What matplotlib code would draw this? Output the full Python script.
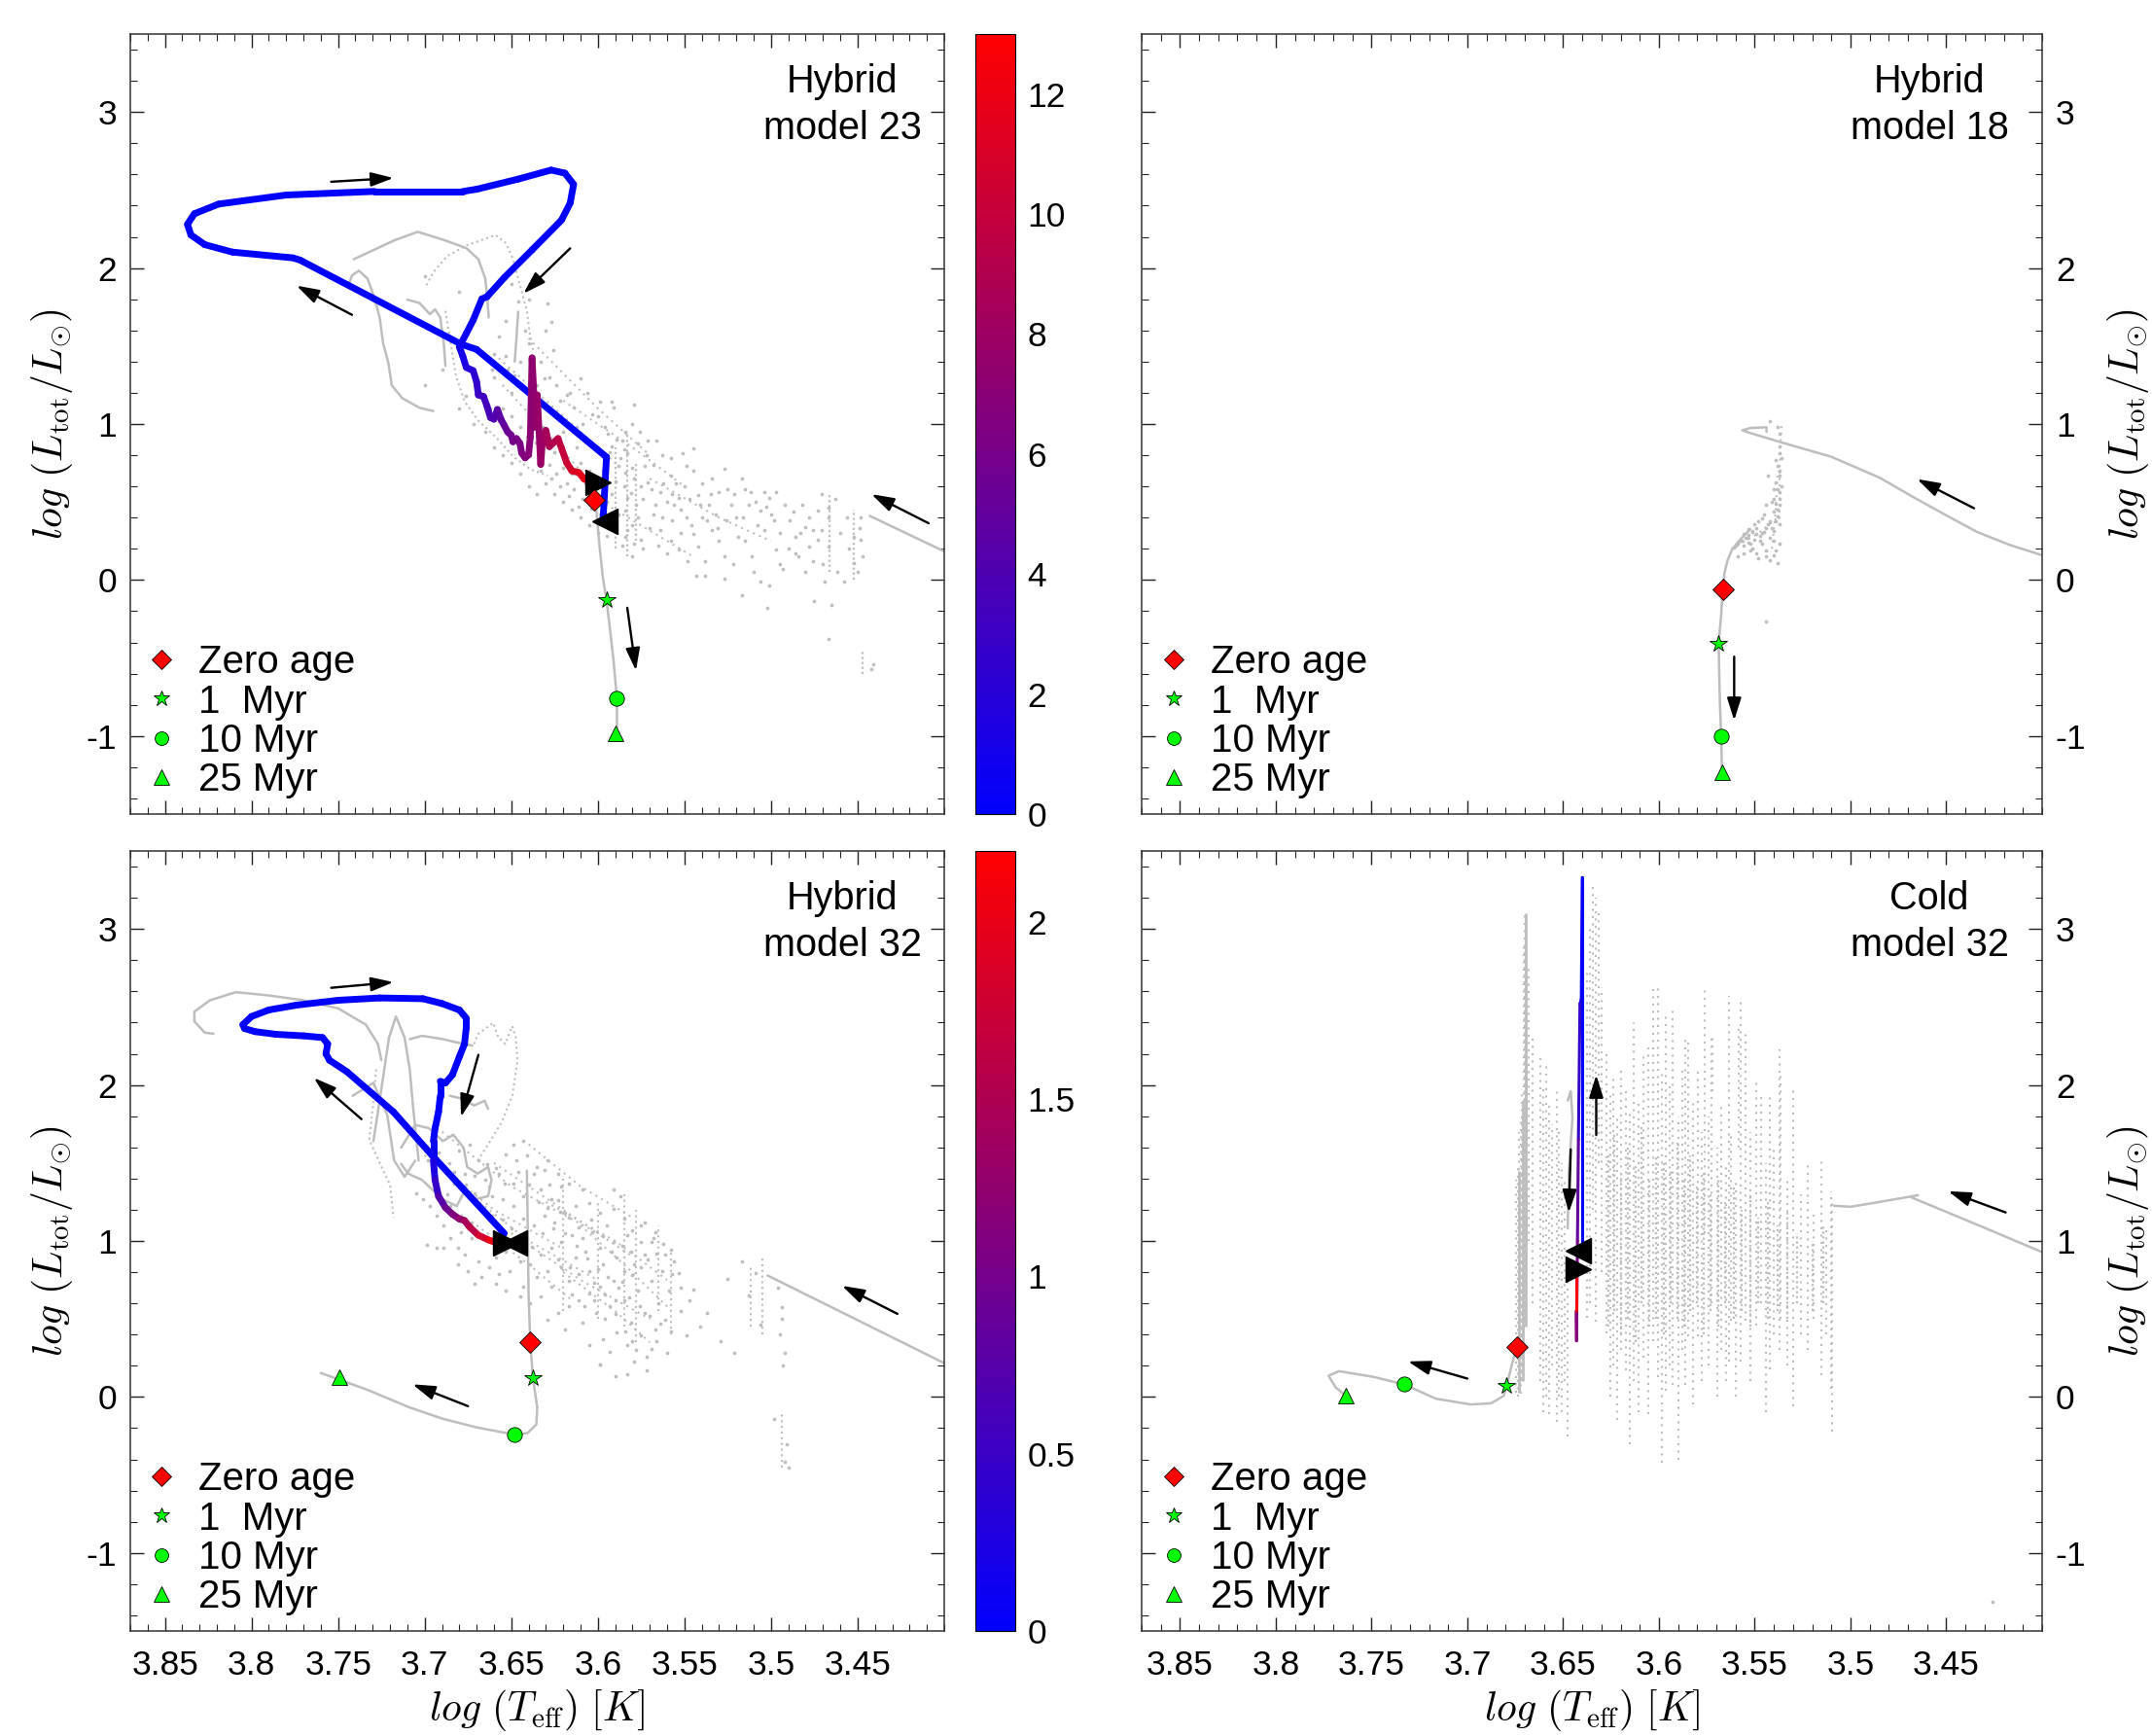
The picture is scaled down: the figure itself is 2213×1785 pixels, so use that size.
import numpy as np
import matplotlib
matplotlib.use('Agg')
import matplotlib.pyplot as plt
from matplotlib.collections import LineCollection
from matplotlib.colors import LinearSegmentedColormap, Normalize
from matplotlib.ticker import FixedLocator, MultipleLocator, FuncFormatter
from matplotlib.lines import Line2D
import matplotlib.cm as cm

plt.rcParams['font.family'] = ['Liberation Sans', 'DejaVu Sans']
plt.rcParams['mathtext.fontset'] = 'cm'
plt.rcParams['axes.unicode_minus'] = False

# ---------------- general values ----------------
panel_titles = ['Hybrid\nmodel 23', 'Hybrid\nmodel 18', 'Hybrid\nmodel 32', 'Cold\nmodel 32']
legend_labels = ['Zero age', '1  Myr', '10 Myr', '25 Myr']
x_ticks = [3.85, 3.8, 3.75, 3.7, 3.65, 3.6, 3.55, 3.5, 3.45]
y_ticks = [-1, 0, 1, 2, 3]
x_lim = (3.87, 3.40)
y_lim = (-1.5, 3.5)
cbar_top_ticks = [0, 2, 4, 6, 8, 10, 12]
cbar_top_max = 13.0
cbar_bot_ticks = [0, 0.5, 1, 1.5, 2]
cbar_bot_max = 2.2

# ---------------- Hybrid model 23 (top left) ----------------
tl_track_x = [3.597, 3.595, 3.670, 3.679, 3.772, 3.776, 3.811, 3.827, 3.835, 3.837, 3.833, 3.819, 3.780,
              3.729, 3.678, 3.670, 3.646, 3.627, 3.619, 3.614, 3.616, 3.621, 3.638, 3.654, 3.664, 3.667,
              3.672, 3.676, 3.680, 3.678, 3.676, 3.672, 3.670, 3.669, 3.666, 3.664, 3.662, 3.660, 3.658,
              3.656, 3.654, 3.652, 3.650, 3.649, 3.647, 3.645, 3.644, 3.642, 3.640, 3.639, 3.638, 3.636,
              3.635, 3.633, 3.632, 3.630, 3.628, 3.626, 3.623, 3.621, 3.618, 3.615, 3.611, 3.608, 3.604, 3.601]
tl_track_y = [0.389, 0.788, 1.478, 1.512, 2.051, 2.065, 2.102, 2.150, 2.212, 2.280, 2.348, 2.410, 2.468,
              2.491, 2.491, 2.505, 2.570, 2.628, 2.608, 2.536, 2.416, 2.307, 2.116, 1.939, 1.816, 1.802,
              1.666, 1.580, 1.495, 1.435, 1.363, 1.342, 1.269, 1.186, 1.176, 1.114, 1.041, 1.031, 1.093,
              1.031, 0.990, 0.948, 0.928, 0.886, 0.907, 0.876, 0.814, 0.783, 0.803, 0.917, 1.424, 0.979,
              1.186, 0.741, 0.896, 0.959, 0.855, 0.876, 0.907, 0.845, 0.752, 0.700, 0.689, 0.648, 0.627, 0.617]
tl_track_t = [0] * 24 + [0.2, 0.3, 0.4, 0.5, 0.7,
              1.0, 1.5, 2.0, 2.5, 2.8, 3.1, 3.4, 3.8, 4.1, 4.3, 4.6, 5.0, 5.3, 5.6, 5.8, 6.0, 6.2, 6.4,
              6.6, 6.8, 7.0, 7.2, 7.4, 7.6, 7.8, 8.0, 8.3, 8.6, 8.9, 9.3, 9.7, 10.2, 10.8, 11.3, 11.8, 12.4, 13.0]
tl_start = (3.596, 0.379)
tl_end = (3.600, 0.627)
tl_age_x = [3.602, 3.595, 3.589, 3.590]
tl_age_y = [0.515, -0.13, -0.757, -0.985]
tl_zams_x = [3.602, 3.601, 3.599, 3.597, 3.595, 3.591, 3.589, 3.589]
tl_zams_y = [0.515, 0.464, 0.215, 0.008, -0.126, -0.509, -0.757, -1.02]
tl_right_x = [3.443, 3.400]
tl_right_y = [0.411, 0.184]
tl_lineA_x = [3.741, 3.729, 3.717, 3.704, 3.689, 3.676, 3.669, 3.665, 3.664, 3.663]
tl_lineA_y = [2.056, 2.118, 2.180, 2.232, 2.180, 2.128, 2.056, 1.932, 1.828, 1.683]
tl_lineB_x = [3.744, 3.742, 3.738, 3.733, 3.729, 3.726, 3.724, 3.721, 3.719, 3.713, 3.703, 3.695]
tl_lineB_y = [1.890, 1.952, 1.983, 1.932, 1.807, 1.683, 1.518, 1.393, 1.248, 1.166, 1.104, 1.083]
tl_lineC_x = [3.710, 3.703, 3.697, 3.694, 3.691, 3.689, 3.688]
tl_lineC_y = [1.797, 1.776, 1.704, 1.735, 1.683, 1.518, 1.373]
tl_lineV_x = [3.646, 3.647, 3.648]
tl_lineV_y = [1.72, 1.55, 1.40]
tl_dotD_x = [3.699, 3.695, 3.687, 3.675, 3.659, 3.653, 3.649, 3.645, 3.641, 3.639, 3.637]
tl_dotD_y = [1.890, 1.973, 2.077, 2.149, 2.211, 2.159, 2.056, 1.890, 1.725, 1.559, 1.455]
tl_dotE_x = [3.688, 3.685, 3.682, 3.677, 3.669, 3.659, 3.649, 3.639, 3.629]
tl_dotE_y = [1.725, 1.518, 1.311, 1.145, 1.021, 0.917, 0.793, 0.710, 0.669]
tl_chains = [([3.660, 3.620, 3.590], [1.45, 1.05, 0.75]),
             ([3.640, 3.600, 3.570], [1.55, 1.10, 0.80]),
             ([3.620, 3.580, 3.550], [1.15, 0.85, 0.60]),
             ([3.570, 3.530, 3.500], [0.65, 0.40, 0.25]),
             ([3.605, 3.575, 3.545], [0.55, 0.35, 0.15]),
             ([3.655, 3.630, 3.610], [1.25, 0.95, 0.70])]
tl_stack_x = [3.590, 3.583, 3.578, 3.466, 3.452, 3.447]
tl_stack_lo = [0.20, 0.15, 0.25, 0.05, 0.00, -0.60]
tl_stack_hi = [0.85, 0.95, 0.75, 0.55, 0.45, -0.45]
tl_cloud = [
    (3.629, 1.776), (3.627, 1.652), (3.626, 1.476), (3.646, 1.786), (3.653, 1.662), (3.657, 1.559), (3.642, 1.600),
    (3.640, 1.518), (3.653, 1.435), (3.661, 1.352), (3.648, 1.311), (3.638, 1.352), (3.631, 1.290), (3.624, 1.249),
    (3.618, 1.187), (3.614, 1.104), (3.610, 1.290), (3.609, 1.001), (3.603, 1.063), (3.599, 1.145), (3.592, 1.145),
    (3.591, 1.104), (3.579, 1.125), (3.594, 0.939), (3.592, 0.856), (3.586, 0.897), (3.583, 0.815), (3.577, 0.877),
    (3.571, 0.897), (3.566, 0.897), (3.573, 0.732), (3.579, 0.649), (3.571, 0.628), (3.584, 0.690), (3.588, 0.732),
    (3.583, 0.525), (3.584, 0.442), (3.577, 0.401), (3.583, 0.318), (3.579, 0.236), (3.584, 0.277), (3.575, 0.256),
    (3.568, 0.422), (3.564, 0.566), (3.558, 0.670), (3.551, 0.815), (3.545, 0.846), (3.553, 0.525), (3.549, 0.732),
    (3.542, 0.546), (3.534, 0.649), (3.527, 0.711), (3.536, 0.484), (3.530, 0.566), (3.523, 0.484), (3.517, 0.649),
    (3.516, 0.401), (3.512, 0.566), (3.504, 0.566), (3.501, 0.525), (3.497, 0.566), (3.506, 0.442), (3.489, 0.380),
    (3.486, 0.277), (3.480, 0.339), (3.473, 0.442), (3.467, 0.463), (3.471, 0.318), (3.478, 0.215), (3.486, 0.173),
    (3.497, 0.194), (3.504, 0.318), (3.511, 0.153), (3.519, 0.277), (3.527, 0.153), (3.534, 0.318), (3.542, 0.215),
    (3.545, 0.298), (3.553, 0.194), (3.560, 0.173), (3.564, 0.318), (3.557, 0.380), (3.549, 0.401), (3.543, 0.029),
    (3.538, 0.029), (3.527, 0.008), (3.517, -0.095), (3.506, -0.013), (3.501, -0.033), (3.493, 0.070), (3.484, 0.153),
    (3.475, -0.137), (3.469, -0.013), (3.458, -0.013), (3.452, 0.111), (3.448, 0.256), (3.452, 0.277), (3.448, 0.401),
    (3.465, -0.157), (3.502, -0.178), (3.467, -0.375), (3.441, -0.540), (3.442, -0.571), (3.476, 0.318), (3.467, 0.401),
    (3.473, 0.256), (3.467, 0.215), (3.482, 0.484),
    (3.700, 1.25), (3.690, 1.35), (3.680, 1.10), (3.672, 1.00), (3.665, 0.95), (3.660, 0.85), (3.655, 0.80),
    (3.650, 0.75), (3.645, 0.68), (3.640, 0.60), (3.635, 0.55), (3.630, 0.62), (3.625, 0.55), (3.620, 0.50),
    (3.615, 0.45), (3.610, 0.40), (3.605, 0.35), (3.600, 0.30), (3.620, 0.72), (3.612, 0.85), (3.605, 0.70),
    (3.598, 0.62), (3.592, 0.55), (3.588, 0.42), (3.595, 0.28), (3.585, 0.60), (3.580, 0.35), (3.700, 1.95),
    (3.680, 1.85), (3.650, 1.90), (3.640, 1.80), (3.630, 1.60), (3.660, 1.30), (3.650, 1.20), (3.640, 1.10),
    (3.635, 1.25), (3.625, 1.05), (3.620, 0.95),
    (3.655, 1.10), (3.650, 1.05), (3.645, 0.98), (3.641, 0.92), (3.636, 0.88), (3.632, 0.80), (3.628, 0.74),
    (3.624, 0.68), (3.618, 0.62), (3.614, 0.58), (3.609, 0.52), (3.604, 0.46), (3.599, 0.42), (3.595, 0.50),
    (3.590, 0.63), (3.587, 0.78), (3.584, 0.95), (3.580, 1.00), (3.576, 0.95), (3.572, 0.80), (3.568, 0.74),
    (3.563, 0.80), (3.558, 0.78), (3.555, 0.62), (3.560, 0.50), (3.567, 0.48), (3.575, 0.60), (3.580, 0.72),
    (3.590, 0.35), (3.586, 0.22), (3.580, 0.15), (3.574, 0.20), (3.570, 0.33), (3.563, 0.40), (3.556, 0.48),
    (3.550, 0.60), (3.545, 0.70), (3.540, 0.62), (3.535, 0.55), (3.540, 0.40), (3.546, 0.35), (3.552, 0.30),
    (3.558, 0.25), (3.565, 0.22), (3.532, 0.42), (3.525, 0.58), (3.520, 0.40), (3.513, 0.48), (3.508, 0.35),
    (3.500, 0.42), (3.495, 0.30), (3.490, 0.20), (3.515, 0.25), (3.530, 0.25), (3.538, 0.12), (3.548, 0.12),
    (3.522, 0.10), (3.510, 0.05), (3.495, 0.10), (3.480, 0.05), (3.478, 0.40), (3.460, 0.30), (3.455, 0.20),
    (3.449, 0.33), (3.447, 0.15), (3.450, 0.05), (3.660, 1.45), (3.652, 1.35), (3.645, 1.40), (3.633, 1.40),
    (3.628, 1.30), (3.622, 1.15), (3.616, 1.20), (3.606, 1.20), (3.600, 1.05), (3.596, 0.98), (3.612, 0.98),
    (3.606, 0.90), (3.600, 0.85), (3.595, 0.78), (3.610, 0.75), (3.615, 0.68), (3.625, 0.82), (3.632, 0.98),
    (3.640, 1.25), (3.668, 1.20), (3.662, 1.10), (3.676, 1.18),
    (3.657, 1.02), (3.651, 0.93), (3.646, 0.87), (3.639, 0.80), (3.633, 0.70), (3.627, 0.65), (3.622, 0.60),
    (3.617, 0.54), (3.611, 0.47), (3.607, 0.62), (3.602, 0.55), (3.597, 0.70), (3.593, 0.82), (3.589, 0.90),
    (3.585, 0.84), (3.581, 0.56), (3.578, 0.48), (3.574, 0.52), (3.569, 0.58), (3.562, 0.62), (3.557, 0.55),
    (3.552, 0.45), (3.547, 0.52), (3.541, 0.48), (3.537, 0.38), (3.531, 0.33), (3.526, 0.38), (3.521, 0.55),
    (3.515, 0.58), (3.509, 0.50), (3.503, 0.47), (3.498, 0.38), (3.492, 0.48), (3.487, 0.44), (3.483, 0.30),
    (3.476, 0.12), (3.470, 0.10), (3.462, 0.05), (3.456, 0.40), (3.463, 0.52), (3.471, 0.55)]
tl_arrows = [((3.754, 2.553), (3.718, 2.577)), ((3.616, 2.126), (3.643, 1.836)), ((3.742, 1.700), (3.774, 1.887)),
             ((3.583, -0.178), (3.578, -0.581)), ((3.409, 0.364), (3.442, 0.550))]

# ---------------- Hybrid model 18 (top right) ----------------
tr_age_x = [3.5667, 3.5688, 3.5675, 3.5670]
tr_age_y = [-0.059, -0.408, -1.004, -1.233]
tr_zams_x = [3.5670, 3.5675, 3.5683, 3.5688, 3.5675, 3.5667, 3.5658, 3.5641, 3.5616, 3.5573, 3.5523]
tr_zams_y = [-1.274, -1.004, -0.724, -0.408, -0.225, -0.059, 0.045, 0.128, 0.200, 0.263, 0.325]
tr_long_x = [3.5438, 3.5438, 3.5520, 3.5565, 3.5530, 3.5354, 3.5100, 3.4846, 3.4677, 3.4508, 3.4339, 3.4169, 3.4000]
tr_long_y = [0.950, 0.979, 0.975, 0.960, 0.945, 0.880, 0.790, 0.655, 0.535, 0.420, 0.308, 0.225, 0.159]
tr_chains = [([3.562, 3.548, 3.538], [0.20, 0.30, 0.40]),
             ([3.537, 3.537, 3.536], [0.35, 0.70, 1.00]),
             ([3.541, 3.539, 3.538], [0.20, 0.45, 0.70])]
tr_cloud = [
    (3.537, 0.855), (3.537, 0.813), (3.538, 0.730), (3.537, 0.668), (3.539, 0.626), (3.537, 0.564), (3.540, 0.522),
    (3.537, 0.481), (3.540, 0.439), (3.538, 0.408), (3.542, 0.377), (3.537, 0.356), (3.544, 0.335), (3.540, 0.315),
    (3.546, 0.304), (3.549, 0.294), (3.542, 0.273), (3.547, 0.252), (3.552, 0.232), (3.537, 0.232), (3.551, 0.200),
    (3.544, 0.190), (3.556, 0.169), (3.540, 0.159), (3.559, 0.149), (3.548, 0.138), (3.542, 0.128), (3.538, 0.107),
    (3.543, 0.668), (3.542, 1.020), (3.538, 0.979), (3.537, 0.938), (3.541, 0.501), (3.546, 0.398), (3.550, 0.356),
    (3.553, 0.325), (3.556, 0.294), (3.558, 0.252), (3.560, 0.221), (3.554, 0.273), (3.551, 0.315), (3.548, 0.377),
    (3.545, 0.419), (3.539, 0.377), (3.540, 0.252), (3.546, 0.232), (3.552, 0.190), (3.549, 0.169), (3.544, 0.149),
    (3.539, 0.190), (3.541, 0.335), (3.544, 0.481), (3.540, 0.585), (3.539, 0.772), (3.544, -0.267),
    (3.561, 0.21), (3.559, 0.23), (3.557, 0.25), (3.555, 0.27), (3.553, 0.29), (3.551, 0.31), (3.549, 0.33),
    (3.556, 0.22), (3.553, 0.24), (3.550, 0.26), (3.547, 0.28), (3.545, 0.31), (3.543, 0.36), (3.538, 0.45),
    (3.537, 0.52), (3.536, 0.60), (3.537, 0.70), (3.536, 0.78), (3.538, 0.58), (3.539, 0.49)]
tr_arrows = [((3.4355, 0.46), (3.4652, 0.647)), ((3.5607, -0.491), (3.5607, -0.900))]

# ---------------- Hybrid model 32 (bottom left) ----------------
bl_track_x = [3.654, 3.6955, 3.718, 3.745, 3.755, 3.757, 3.756, 3.759, 3.770, 3.786, 3.798, 3.804, 3.805, 3.800,
              3.790, 3.774, 3.750, 3.726, 3.701, 3.690, 3.680, 3.676, 3.676, 3.677, 3.680, 3.684, 3.688, 3.691,
              3.691, 3.692, 3.694, 3.695, 3.695, 3.694, 3.692, 3.688, 3.684, 3.680, 3.677, 3.674, 3.669, 3.663, 3.656]
bl_track_y = [1.048, 1.546, 1.827, 2.086, 2.159, 2.200, 2.263, 2.304, 2.315, 2.325, 2.342, 2.362, 2.387, 2.439,
              2.481, 2.512, 2.543, 2.558, 2.553, 2.522, 2.481, 2.429, 2.367, 2.263, 2.180, 2.065, 2.013, 2.024,
              1.930, 1.827, 1.723, 1.640, 1.515, 1.390, 1.287, 1.214, 1.172, 1.141, 1.131, 1.089, 1.037, 1.006, 0.979]
bl_track_t = [0] * 31 + [0.05, 0.15, 0.35, 0.6, 0.85, 1.05, 1.2, 1.35, 1.5, 1.7, 1.9, 2.2]
bl_start = (3.648, 0.99)
bl_end = (3.653, 0.985)
bl_age_x = [3.639, 3.6375, 3.648, 3.749]
bl_age_y = [0.349, 0.121, -0.239, 0.129]
bl_zams_x = [3.6410, 3.6406, 3.640, 3.639, 3.6375, 3.635, 3.6355, 3.6406, 3.6476, 3.670, 3.6895, 3.709, 3.7326, 3.760]
bl_zams_y = [1.45, 1.164, 0.650, 0.349, 0.121, -0.066, -0.176, -0.231, -0.242, -0.195, -0.140, -0.066, 0.044, 0.154]
bl_right_x = [3.502, 3.400]
bl_right_y = [0.779, 0.217]
bl_loop_x = [3.822, 3.827, 3.833, 3.833, 3.824, 3.809, 3.790, 3.770, 3.750, 3.734, 3.727, 3.725]
bl_loop_y = [2.329, 2.335, 2.408, 2.470, 2.543, 2.595, 2.574, 2.543, 2.491, 2.387, 2.263, 2.159]
bl_s1_x = [3.7296, 3.7256, 3.7206, 3.7166, 3.7116, 3.7086, 3.7066, 3.7035]
bl_s1_y = [1.640, 1.931, 2.304, 2.439, 2.304, 2.097, 1.847, 1.515]
bl_s2_x = [3.7416, 3.7296, 3.7216, 3.7176, 3.7116, 3.7055]
bl_s2_y = [1.931, 2.014, 1.806, 1.515, 1.411, 1.515]
bl_s3_x = [3.7086, 3.7015, 3.6895, 3.6815, 3.6725]
bl_s3_y = [2.294, 2.315, 2.294, 2.273, 2.252]
bl_s4_x = [3.6715, 3.6694, 3.6604, 3.6574, 3.6534, 3.6514, 3.6494, 3.6474, 3.6464, 3.6494, 3.6554, 3.6634, 3.6694]
bl_s4_y = [2.263, 2.325, 2.398, 2.304, 2.263, 2.325, 2.377, 2.304, 2.159, 1.931, 1.764, 1.619, 1.515]
bl_s5_x = [3.6855, 3.6775, 3.6715, 3.6654, 3.6634]
bl_s5_y = [1.931, 1.910, 1.868, 1.899, 1.847]
bl_s6_x = [3.7136, 3.7055, 3.6975, 3.6895, 3.6835, 3.6775, 3.6755, 3.6694, 3.6634, 3.6614, 3.6634, 3.6715,
           3.6775, 3.6815, 3.6895, 3.6955, 3.7015, 3.7096, 3.7136]
bl_s6_y = [1.598, 1.744, 1.723, 1.640, 1.681, 1.598, 1.474, 1.432, 1.474, 1.391, 1.287, 1.266, 1.308, 1.224,
           1.266, 1.328, 1.391, 1.432, 1.494]
bl_s7_x = [3.728, 3.730, 3.732, 3.726, 3.720, 3.718]
bl_s7_y = [2.10, 1.85, 1.65, 1.50, 1.36, 1.15]
bl_chains = [([3.700, 3.660, 3.620], [1.55, 1.20, 0.95]),
             ([3.690, 3.650, 3.600], [1.70, 1.35, 1.05]),
             ([3.680, 3.640, 3.600], [1.35, 1.00, 0.75]),
             ([3.660, 3.620, 3.580], [1.50, 1.20, 0.90]),
             ([3.650, 3.610, 3.570], [1.05, 0.75, 0.50]),
             ([3.630, 3.590, 3.560], [1.25, 1.00, 0.75]),
             ([3.620, 3.590, 3.570], [0.80, 0.55, 0.35]),
             ([3.640, 3.610, 3.580], [1.62, 1.35, 1.15]),
             ([3.670, 3.640, 3.615], [1.10, 0.85, 0.62]),
             ([3.610, 3.585, 3.560], [1.10, 0.85, 0.58])]
bl_stack_x = [3.585, 3.578, 3.565, 3.558, 3.512, 3.505, 3.494, 3.600, 3.620]
bl_stack_lo = [0.45, 0.35, 0.55, 0.40, 0.45, 0.40, -0.45, 0.50, 0.55]
bl_stack_hi = [1.30, 1.20, 1.10, 0.95, 0.85, 0.90, -0.10, 1.25, 1.40]
bl_cloud = [
    (3.653, 1.557), (3.647, 1.515), (3.641, 1.546), (3.637, 1.432), (3.631, 1.453), (3.657, 1.432), (3.665, 1.391),
    (3.649, 1.370), (3.643, 1.287), (3.633, 1.328), (3.627, 1.266), (3.621, 1.349), (3.617, 1.370), (3.609, 1.328),
    (3.605, 1.245), (3.613, 1.224), (3.619, 1.183), (3.625, 1.121), (3.631, 1.162), (3.637, 1.100), (3.643, 1.141),
    (3.649, 1.224), (3.655, 1.266), (3.661, 1.287), (3.599, 1.183), (3.591, 1.204), (3.585, 1.141), (3.595, 1.100),
    (3.603, 1.058), (3.609, 1.017), (3.615, 1.037), (3.621, 0.996), (3.627, 0.954), (3.633, 0.913), (3.639, 0.851),
    (3.645, 0.871), (3.651, 0.809), (3.657, 0.788), (3.663, 0.830), (3.669, 0.871), (3.677, 0.913), (3.681, 0.851),
    (3.667, 0.768), (3.659, 0.726), (3.653, 0.685), (3.643, 0.705), (3.635, 0.768), (3.629, 0.809), (3.621, 0.830),
    (3.613, 0.892), (3.607, 0.934), (3.599, 0.954), (3.591, 0.996), (3.583, 1.037), (3.575, 1.100), (3.569, 0.996),
    (3.573, 0.913), (3.579, 0.851), (3.585, 0.809), (3.591, 0.747), (3.599, 0.705), (3.605, 0.664), (3.611, 0.622),
    (3.617, 0.581), (3.623, 0.539), (3.629, 0.498), (3.619, 0.435), (3.609, 0.477), (3.601, 0.539), (3.593, 0.581),
    (3.585, 0.622), (3.577, 0.685), (3.569, 0.747), (3.563, 0.809), (3.559, 0.685), (3.565, 0.601), (3.573, 0.539),
    (3.581, 0.477), (3.589, 0.414), (3.597, 0.373), (3.605, 0.331), (3.593, 0.290), (3.583, 0.331), (3.575, 0.394),
    (3.567, 0.435), (3.561, 0.498), (3.569, 0.311), (3.579, 0.228), (3.599, 0.207), (3.583, 0.144), (3.641, 1.017),
    (3.647, 0.975), (3.653, 0.934), (3.659, 0.892), (3.673, 1.017), (3.679, 1.058), (3.685, 1.017), (3.689, 1.100),
    (3.693, 1.162), (3.697, 1.224), (3.701, 1.266), (3.705, 1.308), (3.689, 0.954), (3.681, 0.954), (3.675, 0.809),
    (3.671, 0.726), (3.699, 0.975), (3.693, 0.954), (3.633, 0.643), (3.639, 0.601), (3.645, 0.643), (3.627, 0.705),
    (3.617, 0.747), (3.611, 0.788), (3.605, 0.809), (3.597, 0.851), (3.589, 0.892), (3.581, 0.934), (3.575, 0.996),
    (3.587, 1.287), (3.591, 1.328), (3.573, 1.121), (3.567, 1.058), (3.561, 0.913), (3.557, 0.788), (3.649, 1.619),
    (3.643, 1.640), (3.635, 1.474), (3.629, 1.515), (3.623, 1.432), (3.669, 1.515), (3.677, 1.432), (3.683, 1.370),
    (3.671, 1.308), (3.667, 1.224), (3.661, 1.162), (3.673, 1.121), (3.679, 1.162), (3.685, 1.224), (3.691, 1.266),
    (3.568, 1.017), (3.558, 0.944), (3.553, 0.797), (3.545, 0.687), (3.537, 0.540), (3.525, 0.760), (3.517, 0.871),
    (3.513, 0.650), (3.506, 0.466), (3.494, 0.577), (3.492, 0.283), (3.498, -0.140), (3.492, -0.415), (3.490, -0.452),
    (3.529, 0.356), (3.549, 0.393), (3.560, 0.283), (3.572, 0.173), (3.580, 0.356), (3.590, 0.136), (3.599, 0.209),
    (3.521, 0.283), (3.509, 0.797), (3.494, 0.503), (3.496, 0.70), (3.495, 0.40), (3.493, 0.20), (3.491, -0.30),
    (3.655, 1.14), (3.650, 1.08), (3.645, 1.03), (3.638, 0.96), (3.632, 1.05), (3.626, 1.08), (3.619, 1.05),
    (3.612, 0.97), (3.606, 0.89), (3.600, 0.82), (3.594, 0.77), (3.588, 0.70), (3.582, 0.64), (3.576, 0.58),
    (3.570, 0.52), (3.564, 0.47), (3.558, 0.42), (3.552, 0.55), (3.547, 0.62), (3.541, 0.45), (3.615, 0.66),
    (3.608, 0.58), (3.602, 0.62), (3.596, 0.50), (3.590, 0.53), (3.584, 0.42), (3.578, 0.30), (3.572, 0.26),
    (3.566, 0.36), (3.623, 0.88), (3.616, 0.83), (3.602, 0.73), (3.596, 0.66), (3.590, 0.62), (3.586, 0.74),
    (3.580, 0.78), (3.575, 0.83), (3.571, 0.88), (3.566, 0.92), (3.562, 0.98), (3.556, 0.87), (3.552, 0.70),
    (3.629, 1.21), (3.623, 1.26), (3.617, 1.15), (3.611, 1.09), (3.604, 1.14), (3.597, 1.03), (3.592, 0.93),
    (3.586, 0.97), (3.580, 1.07), (3.663, 1.35), (3.659, 1.47), (3.654, 1.37), (3.646, 1.44), (3.640, 1.36),
    (3.634, 1.25), (3.628, 1.36), (3.622, 1.19), (3.687, 1.30), (3.683, 1.44), (3.676, 1.36), (3.671, 1.42),
    (3.664, 1.49), (3.695, 1.36), (3.698, 1.52), (3.692, 1.57), (3.686, 1.50), (3.680, 1.58), (3.674, 1.62)]
bl_arrows = [((3.754, 2.623), (3.718, 2.659)), ((3.669, 2.193), (3.679, 1.796)), ((3.7365, 1.781), (3.764, 2.046)),
             ((3.675, -0.059), (3.707, 0.081)), ((3.427, 0.533), (3.459, 0.713))]

# ---------------- Cold model 32 (bottom right) ----------------
br_track_x = [3.6400, 3.6400, 3.6400, 3.6405, 3.6412, 3.6420, 3.6425, 3.6430, 3.6432, 3.6432, 3.6432, 3.6432]
br_track_y = [0.95, 2.30, 3.33, 2.55, 2.52, 1.65, 1.00, 0.36, 0.55, 0.56, 0.78, 0.82]
br_track_t = [0.0, 0.0, 0.02, 0.05, 0.10, 0.30, 0.45, 0.50, 0.55, 0.92, 1.0, 1.0]
br_start = (3.642, 0.936)
br_end = (3.642, 0.817)
br_age_x = [3.6742, 3.6796, 3.733, 3.7634]
br_age_y = [0.3196, 0.0698, 0.081, 0.007]
br_zams_x = [3.6742, 3.6767, 3.6789, 3.681, 3.6875, 3.6984, 3.7164, 3.733, 3.7489, 3.767, 3.7724, 3.7688, 3.7634]
br_zams_y = [0.3196, 0.2094, 0.0992, 0.0073, -0.0404, -0.0478, -0.011, 0.081, 0.1286, 0.1653, 0.1359, 0.0624, 0.0073]
br_right1_x = [3.5086, 3.5000, 3.4850, 3.4648]
br_right1_y = [1.226, 1.219, 1.250, 1.293]
br_right2_x = [3.4681, 3.4344, 3.4000]
br_right2_y = [1.279, 1.107, 0.929]
br_arc_x = [3.6476, 3.6470, 3.6451, 3.6460, 3.6476]
br_arc_y = [1.08, 1.44, 1.79, 1.96, 1.90]
br_dense_x = [3.6728, 3.6712, 3.6696]
br_dense_lo = [0.03, 0.10, 0.45]
br_dense_hi = [1.45, 1.90, 3.10]
br_streak_x = [3.6746, 3.6738, 3.6730, 3.6722, 3.6714, 3.6706, 3.6698, 3.6690, 3.6682, 3.6660, 3.6620, 3.6605,
               3.6590, 3.6575, 3.6560, 3.6535, 3.6520, 3.6505, 3.6490, 3.6475, 3.6375, 3.6360, 3.6345, 3.6330,
               3.6315, 3.6300, 3.6275, 3.6255, 3.6240, 3.6220, 3.6200, 3.6173, 3.6150, 3.6130, 3.6106, 3.6080,
               3.6056, 3.6030, 3.6005, 3.5985, 3.5963, 3.5945, 3.5929, 3.5900, 3.5880, 3.5861, 3.5845, 3.5820,
               3.5794, 3.5776, 3.5760, 3.5740, 3.5726, 3.5718, 3.5695, 3.5676, 3.5650, 3.5634, 3.5625, 3.5600,
               3.5583, 3.5575, 3.5549, 3.5520, 3.5490, 3.5465, 3.5440, 3.5423, 3.5400, 3.5372, 3.5364, 3.5330,
               3.5297, 3.5260, 3.5221, 3.5190, 3.5153, 3.5125, 3.5103, 3.5094]
br_streak_lo = [0.03, 0.00, 0.05, 0.02, 0.10, 0.30, 0.50, 0.80, 1.00, 0.60, 0.10, -0.10,
                0.00, -0.11, 0.20, -0.16, 0.00, -0.10, 0.10, -0.25, 0.51, 0.60, 1.20, 0.48,
                1.50, 0.80, 0.41, 0.00, 0.20, -0.15, 0.30, 0.17, -0.30, 0.10, -0.10, 0.25,
                -0.11, 0.36, 0.13, -0.42, 0.04, 0.20, 0.08, -0.40, 0.30, 0.08, 0.39, -0.05,
                0.39, 0.10, 1.05, 0.20, 0.60, 1.96, 0.00, 0.30, 0.10, 0.23, 0.49, 0.00,
                1.60, 0.23, 0.49, 0.10, 0.46, 0.60, -0.10, 0.18, 0.40, 0.30, 0.50, 0.20,
                -0.06, 0.40, 0.30, 0.50, 0.14, 0.40, 0.05, -0.22]
br_streak_hi = [1.39, 1.50, 1.70, 1.80, 1.95, 2.90, 3.12, 3.05, 2.75, 2.30, 2.20, 2.00,
                2.15, 1.90, 1.75, 1.96, 1.70, 1.50, 1.40, 0.90, 2.75, 3.00, 3.27, 3.20,
                3.10, 2.63, 2.22, 1.95, 2.05, 1.80, 2.10, 1.98, 1.85, 2.40, 1.90, 2.20,
                2.27, 2.63, 2.64, 2.10, 2.46, 2.00, 2.49, 1.80, 2.10, 2.30, 2.30, 1.90,
                2.11, 1.70, 2.62, 1.80, 2.30, 2.30, 1.60, 1.89, 1.50, 2.57, 1.68, 1.40,
                2.37, 2.56, 2.35, 1.70, 2.04, 1.92, 1.50, 1.92, 1.60, 2.23, 2.06, 1.40,
                1.99, 1.30, 1.51, 1.20, 1.51, 1.10, 1.32, 1.25]
br_core_x = [3.6265, 3.6235, 3.6195, 3.6160, 3.6120, 3.6090, 3.6050, 3.6015, 3.5975, 3.5940, 3.5905, 3.5870,
             3.5835, 3.5800, 3.5765, 3.5730, 3.5690, 3.5655, 3.5610, 3.5570, 3.5520, 3.5480, 3.5430, 3.5380,
             3.5330, 3.5280, 3.5200, 3.5140]
br_core_lo = [0.45, 0.55, 0.40, 0.50, 0.35, 0.60, 0.45, 0.50, 0.40, 0.60, 0.50, 0.45,
              0.55, 0.60, 0.40, 0.55, 0.45, 0.60, 0.50, 0.55, 0.45, 0.60, 0.50, 0.55,
              0.50, 0.60, 0.55, 0.60]
br_core_hi = [1.55, 1.70, 1.45, 1.60, 1.50, 1.75, 1.40, 1.55, 1.50, 1.45, 1.65, 1.40,
              1.55, 1.35, 1.45, 1.30, 1.40, 1.25, 1.35, 1.20, 1.30, 1.15, 1.25, 1.10,
              1.20, 1.05, 1.00, 1.10]
br_points = [(3.426, -1.315)]
br_arrows = [((3.6327, 1.679), (3.6327, 2.064)), ((3.646, 1.587), (3.647, 1.183)),
             ((3.700, 0.118), (3.731, 0.228)), ((3.419, 1.183), (3.449, 1.319))]

# ---------------- drawing ----------------
GRAY = '#bdbdbd'
cmap = LinearSegmentedColormap.from_list('blue_red', ['#0000ff', '#ff0000'])

fig = plt.figure(figsize=(22.13, 17.85), dpi=100)
ax_tl = fig.add_axes([0.06055, 0.5311, 0.3782, 0.4493])
ax_tr = fig.add_axes([0.5305, 0.5311, 0.4184, 0.4493])
ax_bl = fig.add_axes([0.06055, 0.0605, 0.3782, 0.4493])
ax_br = fig.add_axes([0.5305, 0.0605, 0.4184, 0.4493])
cax_t = fig.add_axes([0.4532, 0.5311, 0.01853, 0.4493])
cax_b = fig.add_axes([0.4532, 0.0605, 0.01853, 0.4493])

ylab = r'$log\ (L_{\rm tot}/L_{\odot})$'
xlab = r'$log\ (T_{\rm eff})\ [K]$'


def style_axes(ax, right, bottom):
    ax.set_xlim(*x_lim)
    ax.set_ylim(*y_lim)
    ax.xaxis.set_major_locator(FixedLocator(x_ticks))
    ax.xaxis.set_minor_locator(MultipleLocator(0.01))
    ax.yaxis.set_major_locator(FixedLocator(y_ticks))
    ax.yaxis.set_minor_locator(MultipleLocator(0.2))
    ax.xaxis.set_major_formatter(FuncFormatter(lambda v, p: f'{round(v, 3):g}'))
    ax.yaxis.set_major_formatter(FuncFormatter(lambda v, p: f'{int(round(v))}'))
    ax.tick_params(which='both', direction='in', top=True, bottom=True, left=True, right=True,
                   colors='#222222')
    ax.tick_params(which='major', length=10, width=1.0, labelsize=25.5, labelcolor='k')
    ax.tick_params(which='minor', length=5, width=0.8)
    ax.tick_params(axis='x', pad=14)
    for s in ax.spines.values():
        s.set_linewidth(1.1)
        s.set_color('#333333')
    if right:
        ax.tick_params(axis='y', labelleft=False, labelright=True, pad=10)
        ax.yaxis.set_label_position('right')
        ax.set_ylabel(ylab, fontsize=30, labelpad=14)
    else:
        ax.tick_params(axis='y', labelleft=True, labelright=False, pad=10)
        ax.set_ylabel(ylab, fontsize=30, labelpad=8)
    if bottom:
        ax.set_xlabel(xlab, fontsize=30, labelpad=4)
    else:
        ax.tick_params(axis='x', labelbottom=False)


def colored_track(ax, x, y, t, norm, lw):
    pts = np.column_stack([x, y])
    segs = np.stack([pts[:-1], pts[1:]], axis=1)
    tt = np.asarray(t, dtype=float)
    lc = LineCollection(segs, cmap=cmap, norm=norm, linewidths=lw, capstyle='round',
                        joinstyle='round', zorder=5)
    lc.set_array(0.5 * (tt[:-1] + tt[1:]))
    ax.add_collection(lc)


def gray_line(ax, x, y, dotted=False, lw=1.8):
    if dotted:
        ax.plot(x, y, color=GRAY, lw=1.5, linestyle=(0, (1, 1.6)), zorder=2)
    else:
        ax.plot(x, y, color=GRAY, lw=lw, zorder=2, solid_capstyle='round')


def chains(ax, lst):
    for xs, ys in lst:
        ax.plot(xs, ys, color=GRAY, lw=1.5, linestyle=(0, (1, 2.2)), zorder=1)


def cloud(ax, pts, s=7):
    xs = [p[0] for p in pts]
    ys = [p[1] for p in pts]
    ax.scatter(xs, ys, s=s, color=GRAY, linewidths=0, zorder=1)


def arrows(ax, lst):
    for tail, head in lst:
        ax.annotate('', xy=head, xytext=tail,
                    arrowprops=dict(arrowstyle='-|>,head_length=0.7,head_width=0.22', color='k',
                                    lw=1.7, shrinkA=0, shrinkB=0, mutation_scale=20), zorder=8)


def age_markers(ax, xs, ys):
    ax.plot(xs[0], ys[0], marker='D', ms=11, mfc='#ff0000', mec='k', mew=0.6, ls='none', zorder=9)
    ax.plot(xs[1], ys[1], marker='*', ms=13, mfc='#00ff00', mec='k', mew=0.6, ls='none', zorder=9)
    ax.plot(xs[2], ys[2], marker='o', ms=11, mfc='#00ff00', mec='k', mew=0.6, ls='none', zorder=9)
    ax.plot(xs[3], ys[3], marker='^', ms=12, mfc='#00ff00', mec='k', mew=0.6, ls='none', zorder=9)


def legend(ax):
    handles = [Line2D([], [], marker='D', ms=10, mfc='#ff0000', mec='k', mew=0.6, ls='none'),
               Line2D([], [], marker='*', ms=12, mfc='#00ff00', mec='k', mew=0.6, ls='none'),
               Line2D([], [], marker='o', ms=10, mfc='#00ff00', mec='k', mew=0.6, ls='none'),
               Line2D([], [], marker='^', ms=11, mfc='#00ff00', mec='k', mew=0.6, ls='none')]
    ax.legend(handles, legend_labels, loc='lower left', bbox_to_anchor=(0.014, 0.020), frameon=False,
              fontsize=29, handlelength=1.0, handletextpad=0.45, labelspacing=0.055, borderpad=0,
              borderaxespad=0)


def title(ax, txt):
    ax.text(0.875, 0.963, txt, transform=ax.transAxes, ha='center', va='top', fontsize=28.5,
            linespacing=1.33, zorder=10)


def end_markers(ax, start, end):
    ax.plot(*start, marker='<', ms=19, color='k', ls='none', zorder=7)
    ax.plot(*end, marker='>', ms=19, color='k', ls='none', zorder=7)


# --- top left
ax = ax_tl
style_axes(ax, right=False, bottom=False)
cloud(ax, tl_cloud)
chains(ax, tl_chains)
gray_line(ax, tl_zams_x, tl_zams_y)
gray_line(ax, tl_right_x, tl_right_y)
gray_line(ax, tl_lineA_x, tl_lineA_y)
gray_line(ax, tl_lineB_x, tl_lineB_y)
gray_line(ax, tl_lineC_x, tl_lineC_y)
gray_line(ax, tl_lineV_x, tl_lineV_y)
gray_line(ax, tl_dotD_x, tl_dotD_y, dotted=True)
gray_line(ax, tl_dotE_x, tl_dotE_y, dotted=True)
ax.vlines(tl_stack_x, tl_stack_lo, tl_stack_hi, colors=GRAY, linestyles=[(0, (1, 1.3))], linewidths=1.6, zorder=1)
norm_t = Normalize(0, cbar_top_max)
colored_track(ax, tl_track_x, tl_track_y, tl_track_t, norm_t, 5.0)
end_markers(ax, tl_start, tl_end)
age_markers(ax, tl_age_x, tl_age_y)
arrows(ax, tl_arrows)
legend(ax)
title(ax, panel_titles[0])

# --- top right
ax = ax_tr
style_axes(ax, right=True, bottom=False)
cloud(ax, tr_cloud)
chains(ax, tr_chains)
gray_line(ax, tr_zams_x, tr_zams_y)
gray_line(ax, tr_long_x, tr_long_y)
age_markers(ax, tr_age_x, tr_age_y)
arrows(ax, tr_arrows)
legend(ax)
title(ax, panel_titles[1])

# --- bottom left
ax = ax_bl
style_axes(ax, right=False, bottom=True)
cloud(ax, bl_cloud)
chains(ax, bl_chains)
ax.vlines(bl_stack_x, bl_stack_lo, bl_stack_hi, colors=GRAY, linestyles=[(0, (1, 1.8))], linewidths=1.5, zorder=1)
gray_line(ax, bl_zams_x, bl_zams_y)
gray_line(ax, bl_right_x, bl_right_y)
gray_line(ax, bl_loop_x, bl_loop_y)
gray_line(ax, bl_s1_x, bl_s1_y)
gray_line(ax, bl_s2_x, bl_s2_y)
gray_line(ax, bl_s3_x, bl_s3_y)
gray_line(ax, bl_s4_x, bl_s4_y, dotted=True)
gray_line(ax, bl_s5_x, bl_s5_y)
gray_line(ax, bl_s6_x, bl_s6_y)
gray_line(ax, bl_s7_x, bl_s7_y, dotted=True)
norm_b = Normalize(0, cbar_bot_max)
colored_track(ax, bl_track_x, bl_track_y, bl_track_t, norm_b, 5.0)
end_markers(ax, bl_start, bl_end)
age_markers(ax, bl_age_x, bl_age_y)
arrows(ax, bl_arrows)
legend(ax)
title(ax, panel_titles[2])

# --- bottom right
ax = ax_br
style_axes(ax, right=True, bottom=True)
ax.vlines(br_streak_x, br_streak_lo, br_streak_hi, colors=GRAY, linestyles=[(0, (1, 2.6))],
          linewidths=1.5, zorder=1)
ax.vlines(br_core_x, br_core_lo, br_core_hi, colors=GRAY, linestyles=[(0, (1, 1.3))],
          linewidths=1.6, zorder=1)
ax.vlines(br_dense_x, br_dense_lo, br_dense_hi, colors=GRAY, linewidths=2.0, zorder=1)
cloud(ax, br_points)
gray_line(ax, br_zams_x, br_zams_y)
gray_line(ax, br_right1_x, br_right1_y)
gray_line(ax, br_right2_x, br_right2_y)
gray_line(ax, br_arc_x, br_arc_y)
colored_track(ax, br_track_x, br_track_y, br_track_t, Normalize(0, 1), 2.2)
end_markers(ax, br_start, br_end)
age_markers(ax, br_age_x, br_age_y)
arrows(ax, br_arrows)
legend(ax)
title(ax, panel_titles[3])

# --- colorbars
for cax, vmax, ticks in [(cax_t, cbar_top_max, cbar_top_ticks), (cax_b, cbar_bot_max, cbar_bot_ticks)]:
    sm = cm.ScalarMappable(norm=Normalize(0, vmax), cmap=cmap)
    cb = fig.colorbar(sm, cax=cax, ticks=ticks)
    cb.ax.yaxis.set_major_formatter(FuncFormatter(lambda v, p: f'{v:g}'))
    cb.ax.tick_params(labelsize=25.5, length=0, pad=9)
    cb.outline.set_linewidth(0.8)

fig.savefig('out.png', dpi=100)
